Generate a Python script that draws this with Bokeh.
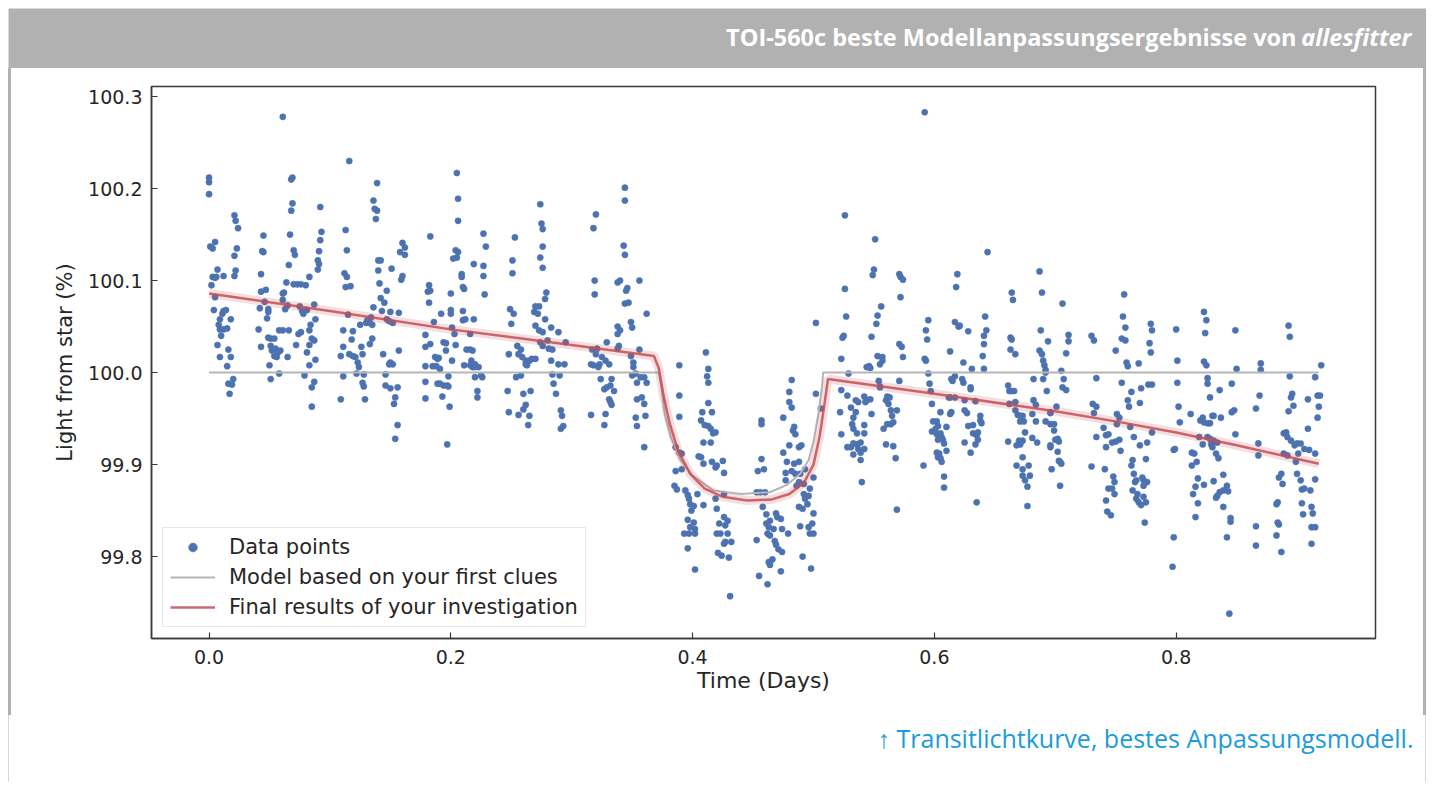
from bokeh.plotting import figure
from bokeh.models import (Range1d, FixedTicker, NumeralTickFormatter, Legend,
                          LegendItem, ColumnDataSource)
from bokeh.core.properties import value
from bokeh.embed import file_html
from bokeh.resources import INLINE

# ---------------- texts ----------------
TITLE_MAIN = "TOI-560c beste Modellanpassungsergebnisse von"
TITLE_ITALIC = "allesfitter"
CAPTION = "\u2191 Transitlichtkurve, bestes Anpassungsmodell."
X_LABEL = "Time (Days)"
Y_LABEL = "Light from star (%)"
LEGEND_LABELS = ["Data points", "Model based on your first clues",
                 "Final results of your investigation"]
X_TICKS = [0.0, 0.2, 0.4, 0.6, 0.8]
Y_TICKS = [99.8, 99.9, 100.0, 100.1, 100.2, 100.3]

# ---------------- data (time in days, flux in %) ----------------
points_before = [
    (0.000, 100.212), (0.000, 100.207), (0.000, 100.194), (0.001, 100.137), (0.003, 100.135),
    (0.005, 100.142), (0.002, 100.095), (0.003, 100.104), (0.005, 100.103), (0.006, 100.104),
    (0.007, 100.112), (0.012, 100.105), (0.005, 100.082), (0.004, 100.068), (0.009, 100.058),
    (0.011, 100.064), (0.012, 100.067), (0.014, 100.068), (0.008, 100.052), (0.009, 100.047),
    (0.012, 100.047), (0.010, 100.040), (0.007, 100.030), (0.009, 100.017), (0.015, 100.048),
    (0.018, 100.058), (0.016, 100.025), (0.018, 100.017), (0.015, 100.007), (0.020, 99.993),
    (0.016, 99.988), (0.019, 99.987), (0.017, 99.977), (0.021, 100.171), (0.022, 100.165),
    (0.024, 100.157), (0.023, 100.135), (0.021, 100.127), (0.022, 100.111), (0.021, 100.105),
    (0.045, 100.149), (0.044, 100.132), (0.045, 100.131), (0.043, 100.107), (0.043, 100.088),
    (0.047, 100.090), (0.046, 100.077), (0.042, 100.070), (0.049, 100.069), (0.049, 100.066),
    (0.048, 100.059), (0.041, 100.047), (0.043, 100.028), (0.049, 100.038), (0.051, 100.037),
    (0.054, 100.037), (0.051, 100.029), (0.052, 100.024), (0.055, 100.026), (0.057, 100.022),
    (0.059, 100.024), (0.054, 100.018), (0.056, 100.017), (0.050, 100.008), (0.051, 99.993),
    (0.058, 99.999), (0.058, 100.046), (0.065, 100.017),
    (0.061, 100.278), (0.069, 100.212), (0.068, 100.210), (0.069, 100.184), (0.068, 100.176),
    (0.067, 100.150), (0.070, 100.133), (0.071, 100.128), (0.066, 100.117), (0.064, 100.098),
    (0.070, 100.096), (0.073, 100.096), (0.076, 100.096), (0.080, 100.095), (0.062, 100.087),
    (0.061, 100.086), (0.061, 100.079), (0.063, 100.069), (0.065, 100.073), (0.061, 100.046),
    (0.066, 100.046), (0.075, 100.072), (0.077, 100.067), (0.081, 100.068), (0.078, 100.064),
    (0.076, 100.044), (0.074, 100.042), (0.072, 100.030), (0.083, 100.104), (0.087, 100.074),
    (0.088, 100.058), (0.084, 100.052), (0.083, 100.046), (0.085, 100.037), (0.087, 100.035),
    (0.083, 100.030), (0.081, 100.022), (0.088, 100.014), (0.083, 100.008), (0.079, 99.997),
    (0.087, 99.990), (0.085, 99.984), (0.085, 99.963), (0.092, 100.180), (0.093, 100.153),
    (0.092, 100.144), (0.091, 100.132), (0.090, 100.122), (0.091, 100.118), (0.090, 100.112),
    (0.116, 100.230), (0.113, 100.155), (0.114, 100.133), (0.112, 100.108), (0.114, 100.104),
    (0.113, 100.093), (0.117, 100.094), (0.115, 100.063), (0.111, 100.046), (0.119, 100.045),
    (0.111, 100.028), (0.118, 100.036), (0.109, 100.018), (0.116, 100.020), (0.119, 100.018),
    (0.121, 100.017), (0.123, 100.011), (0.124, 100.006), (0.122, 99.999), (0.111, 99.996),
    (0.126, 100.028), (0.127, 100.020), (0.125, 100.052), (0.128, 99.998), (0.127, 99.989),
    (0.128, 99.985), (0.109, 99.971), (0.129, 99.971), (0.130, 100.054), (0.131, 100.057),
    (0.133, 100.054), (0.135, 100.052), (0.134, 100.060), (0.132, 100.058), (0.133, 100.031),
    (0.135, 100.037), (0.136, 100.071), (0.139, 100.206), (0.136, 100.187), (0.137, 100.178),
    (0.139, 100.176), (0.138, 100.167), (0.140, 100.122), (0.142, 100.122), (0.140, 100.111),
    (0.141, 100.097), (0.147, 100.089), (0.142, 100.081), (0.145, 100.076), (0.143, 100.067),
    (0.147, 100.058), (0.150, 100.066), (0.152, 100.054), (0.149, 100.056), (0.144, 100.020),
    (0.150, 100.011), (0.152, 100.009), (0.149, 100.009), (0.146, 99.998), (0.146, 99.986),
    (0.150, 99.983), (0.153, 99.966), (0.154, 99.973), (0.156, 99.943), (0.154, 99.928),
    (0.156, 99.984), (0.157, 100.024), (0.157, 100.065), (0.151, 100.113), (0.160, 100.141),
    (0.162, 100.136), (0.158, 100.131), (0.162, 100.128), (0.160, 100.105), (0.159, 100.101),
    (0.183, 100.148), (0.182, 100.095), (0.181, 100.088), (0.183, 100.089), (0.182, 100.076),
    (0.179, 100.041), (0.179, 100.028), (0.183, 100.031), (0.186, 100.055), (0.179, 100.007),
    (0.179, 99.990), (0.179, 99.972), (0.187, 100.017), (0.189, 100.015), (0.190, 100.016),
    (0.188, 100.007), (0.185, 100.007), (0.191, 100.004), (0.189, 99.988), (0.191, 99.988),
    (0.194, 99.986), (0.197, 99.986), (0.198, 99.985), (0.193, 99.974), (0.199, 99.963),
    (0.197, 99.922), (0.192, 100.064), (0.194, 100.033), (0.196, 100.032), (0.196, 100.024),
    (0.198, 99.996), (0.200, 100.068), (0.200, 100.064), (0.200, 100.086), (0.201, 100.049),
    (0.203, 100.042), (0.204, 100.030), (0.201, 100.013), (0.205, 100.217), (0.206, 100.189),
    (0.206, 100.165), (0.204, 100.133), (0.206, 100.131), (0.205, 100.125), (0.202, 100.124),
    (0.209, 100.107), (0.209, 100.104), (0.210, 100.093), (0.211, 100.091), (0.210, 100.057),
    (0.212, 100.058), (0.210, 100.067), (0.213, 100.025), (0.216, 100.025), (0.217, 100.013),
    (0.218, 100.006), (0.216, 100.008), (0.220, 100.006), (0.211, 100.008), (0.219, 100.118),
    (0.219, 100.058), (0.220, 99.995), (0.222, 99.980), (0.222, 99.973),
    (0.227, 100.151), (0.229, 100.137), (0.227, 100.116), (0.227, 100.105), (0.228, 100.085),
    (0.216, 100.042), (0.218, 100.024), (0.220, 100.009), (0.223, 100.006), (0.225, 99.997),
    (0.226, 99.995),
    (0.253, 100.147), (0.251, 100.122), (0.251, 100.108), (0.249, 100.069), (0.252, 100.064),
    (0.250, 100.053), (0.248, 100.020), (0.247, 99.980), (0.248, 99.957), (0.256, 99.954),
    (0.265, 99.953), (0.264, 99.943), (0.255, 100.029), (0.258, 100.025), (0.259, 100.017),
    (0.256, 100.020), (0.262, 100.009), (0.263, 100.008), (0.262, 100.013), (0.254, 99.995),
    (0.258, 99.997), (0.260, 99.977), (0.262, 99.965), (0.260, 99.960), (0.266, 99.980),
    (0.265, 100.013), (0.267, 100.015), (0.270, 100.015), (0.269, 100.066), (0.272, 100.064),
    (0.270, 100.072), (0.273, 100.072), (0.270, 100.051), (0.273, 100.046), (0.276, 100.044),
    (0.274, 100.183), (0.275, 100.162), (0.276, 100.156), (0.276, 100.137), (0.274, 100.125),
    (0.276, 100.114), (0.279, 100.087), (0.278, 100.080), (0.278, 100.058), (0.274, 100.033),
    (0.276, 100.029), (0.280, 100.035), (0.281, 100.026), (0.284, 100.025), (0.283, 100.013),
    (0.284, 99.998), (0.283, 100.049), (0.289, 100.044), (0.295, 100.033), (0.290, 99.997),
    (0.285, 99.988), (0.287, 99.977), (0.291, 99.959), (0.292, 99.953), (0.291, 99.939),
    (0.293, 99.942), (0.294, 100.009), (0.289, 100.009),
    (0.320, 100.172), (0.318, 100.157), (0.319, 100.100), (0.319, 100.085), (0.317, 100.025),
    (0.320, 100.020), (0.316, 100.009), (0.318, 100.008), (0.323, 100.009), (0.322, 100.006),
    (0.321, 100.026), (0.325, 100.017), (0.328, 100.013), (0.329, 100.033), (0.331, 100.009),
    (0.316, 99.954), (0.327, 99.943), (0.328, 99.955), (0.327, 99.982), (0.329, 99.984),
    (0.332, 99.986), (0.331, 99.971), (0.332, 99.968), (0.333, 99.965), (0.335, 99.980),
    (0.324, 99.993), (0.333, 99.993), (0.338, 100.026), (0.339, 100.029), (0.338, 100.042),
    (0.338, 100.050), (0.340, 100.046), (0.338, 100.098), (0.340, 100.100), (0.345, 100.089),
    (0.344, 100.075), (0.347, 100.076), (0.346, 100.092), (0.343, 100.138), (0.344, 100.128),
    (0.344, 100.187), (0.344, 100.201), (0.349, 100.055), (0.350, 100.049), (0.349, 100.018),
    (0.351, 100.011), (0.351, 100.006), (0.353, 99.999), (0.350, 99.997), (0.354, 99.989),
    (0.357, 99.995), (0.360, 99.995), (0.362, 99.989), (0.356, 100.100), (0.362, 100.064),
    (0.356, 100.025), (0.354, 99.971), (0.358, 99.973), (0.360, 99.966), (0.353, 99.951),
    (0.354, 99.942), (0.361, 99.953), (0.360, 99.919),
]

points_transit = [
    (0.389, 100.008), (0.389, 99.975), (0.389, 99.952), (0.386, 99.919), (0.389, 99.913),
    (0.391, 99.912), (0.386, 99.893), (0.391, 99.895), (0.385, 99.877), (0.387, 99.873),
    (0.394, 99.872), (0.396, 99.867), (0.397, 99.863), (0.398, 99.857), (0.401, 99.855),
    (0.399, 99.850), (0.404, 99.868), (0.409, 99.856), (0.396, 99.840), (0.401, 99.837),
    (0.398, 99.832), (0.402, 99.830), (0.393, 99.825), (0.397, 99.825), (0.402, 99.825),
    (0.396, 99.809), (0.402, 99.786), (0.411, 100.022), (0.413, 100.004), (0.412, 99.996),
    (0.413, 99.989), (0.413, 99.967), (0.416, 99.957), (0.408, 99.957), (0.407, 99.948),
    (0.410, 99.943), (0.413, 99.942), (0.415, 99.939), (0.417, 99.934), (0.419, 99.935),
    (0.409, 99.924), (0.415, 99.924), (0.405, 99.909), (0.407, 99.908), (0.409, 99.901),
    (0.416, 99.903), (0.419, 99.897), (0.420, 99.899), (0.425, 99.904), (0.426, 99.891),
    (0.426, 99.868), (0.419, 99.863), (0.420, 99.852), (0.426, 99.843), (0.429, 99.839),
    (0.427, 99.834), (0.422, 99.836), (0.420, 99.825), (0.423, 99.825), (0.429, 99.825),
    (0.427, 99.816), (0.432, 99.816), (0.426, 99.814), (0.421, 99.804), (0.424, 99.801),
    (0.430, 99.799), (0.431, 99.757),
    (0.457, 99.948), (0.457, 99.944), (0.457, 99.906), (0.459, 99.895), (0.454, 99.893),
    (0.453, 99.870), (0.456, 99.870), (0.460, 99.870), (0.458, 99.854), (0.461, 99.846),
    (0.469, 99.847), (0.473, 99.841), (0.464, 99.839), (0.470, 99.843), (0.461, 99.836),
    (0.463, 99.832), (0.467, 99.830), (0.474, 99.830), (0.479, 99.825), (0.453, 99.818),
    (0.462, 99.825), (0.464, 99.823), (0.468, 99.817), (0.469, 99.813), (0.471, 99.808),
    (0.474, 99.805), (0.466, 99.797), (0.464, 99.791), (0.463, 99.794), (0.473, 99.784),
    (0.455, 99.779), (0.462, 99.770),
    (0.475, 99.951), (0.480, 99.979), (0.480, 99.968), (0.482, 99.962), (0.482, 99.992),
    (0.483, 99.937), (0.484, 99.941), (0.485, 99.933), (0.480, 99.921), (0.488, 99.919),
    (0.490, 99.921), (0.475, 99.913), (0.478, 99.903), (0.484, 99.901), (0.488, 99.903),
    (0.477, 99.891), (0.482, 99.893), (0.485, 99.890), (0.488, 99.881), (0.489, 99.890),
    (0.493, 99.895), (0.477, 99.883), (0.486, 99.877), (0.492, 99.879), (0.492, 99.868),
    (0.493, 99.863), (0.496, 99.866), (0.497, 99.874), (0.500, 99.886), (0.488, 99.854),
    (0.491, 99.852), (0.495, 99.857), (0.500, 99.847), (0.489, 99.833), (0.496, 99.832),
    (0.497, 99.825), (0.500, 99.825), (0.499, 99.836), (0.491, 99.800), (0.498, 99.787),
    (0.502, 100.054), (0.502, 99.977), (0.506, 99.961),
]

points_after = [
    (0.526, 100.171), (0.526, 100.091), (0.527, 100.061), (0.525, 100.040), (0.524, 100.038),
    (0.523, 100.015), (0.523, 99.981), (0.528, 99.975), (0.522, 99.957), (0.523, 99.933),
    (0.528, 99.919), (0.529, 99.999), (0.592, 100.283), (0.551, 100.145),
    (0.550, 100.112), (0.549, 100.106), (0.556, 100.072), (0.553, 100.062), (0.552, 100.053),
    (0.548, 100.039), (0.553, 100.018), (0.557, 100.017), (0.555, 100.009), (0.557, 100.013),
    (0.554, 99.991), (0.555, 99.985), (0.555, 99.984), (0.546, 100.007), (0.544, 100.006),
    (0.547, 100.005), (0.542, 99.974), (0.544, 99.970), (0.547, 99.971), (0.548, 99.955),
    (0.543, 99.968), (0.535, 99.970), (0.531, 99.962), (0.535, 99.957), (0.537, 99.968),
    (0.533, 99.951), (0.532, 99.944), (0.533, 99.939), (0.536, 99.934), (0.542, 99.943),
    (0.542, 99.934), (0.531, 99.919), (0.533, 99.923), (0.536, 99.922), (0.539, 99.924),
    (0.537, 99.917), (0.542, 99.917), (0.533, 99.911), (0.539, 99.913), (0.539, 99.905),
    (0.540, 99.881), (0.561, 99.974), (0.563, 99.973), (0.560, 99.970), (0.562, 99.966),
    (0.564, 99.959), (0.565, 99.953), (0.564, 99.944), (0.566, 99.946), (0.569, 99.959),
    (0.558, 99.939), (0.561, 99.944), (0.560, 99.922), (0.566, 99.920), (0.568, 99.907),
    (0.569, 99.851), (0.571, 100.107), (0.572, 100.104), (0.574, 100.101), (0.572, 100.082),
    (0.571, 100.031), (0.573, 100.028), (0.574, 100.017), (0.571, 99.991),
    (0.595, 100.057), (0.593, 100.046), (0.594, 100.036), (0.592, 100.015), (0.593, 100.013),
    (0.595, 99.999), (0.596, 99.988), (0.597, 99.980), (0.598, 99.966), (0.591, 99.899),
    (0.599, 99.947), (0.602, 99.947), (0.603, 99.942), (0.601, 99.939), (0.598, 99.936),
    (0.602, 99.933), (0.605, 99.934), (0.606, 99.930), (0.603, 99.927), (0.607, 99.927),
    (0.608, 99.923), (0.605, 99.957), (0.610, 99.941), (0.602, 99.913), (0.604, 99.912),
    (0.603, 99.908), (0.605, 99.907), (0.606, 99.903), (0.610, 99.915), (0.608, 99.887),
    (0.608, 99.875), (0.613, 100.023), (0.614, 99.993), (0.617, 99.996), (0.615, 99.991),
    (0.613, 99.973), (0.617, 99.973), (0.612, 99.973), (0.614, 99.957), (0.613, 99.955),
    (0.619, 100.107), (0.618, 100.093), (0.617, 100.055), (0.620, 100.050), (0.621, 100.051),
    (0.623, 99.993), (0.624, 99.989), (0.625, 99.970), (0.625, 99.959), (0.627, 99.956),
    (0.628, 99.942), (0.625, 99.924), (0.630, 99.913), (0.624, 100.011), (0.628, 100.045),
    (0.631, 100.004), (0.630, 99.982), (0.630, 99.984), (0.632, 99.943), (0.634, 99.969),
    (0.632, 99.934), (0.635, 99.932), (0.636, 99.935), (0.636, 99.927), (0.634, 99.922),
    (0.638, 99.953), (0.639, 99.945), (0.638, 99.948), (0.640, 100.018), (0.641, 100.031),
    (0.641, 100.040), (0.642, 100.061), (0.643, 100.046), (0.641, 100.004), (0.635, 99.859),
    (0.644, 100.131),
    (0.664, 100.087), (0.665, 100.079), (0.663, 100.038), (0.664, 100.036), (0.663, 100.025),
    (0.667, 100.020), (0.661, 99.986), (0.662, 99.980), (0.664, 99.980), (0.666, 99.980),
    (0.662, 99.966), (0.667, 99.968), (0.661, 99.925), (0.667, 99.959), (0.669, 99.954),
    (0.671, 99.953), (0.673, 99.953), (0.671, 99.947), (0.674, 99.947), (0.670, 99.926),
    (0.671, 99.922), (0.673, 99.926), (0.675, 99.935), (0.668, 99.921), (0.673, 99.908),
    (0.668, 99.899), (0.673, 99.895), (0.673, 99.888), (0.678, 99.899), (0.679, 99.888),
    (0.675, 99.883), (0.677, 99.876), (0.677, 99.855), (0.682, 99.993), (0.682, 99.970),
    (0.684, 99.965), (0.681, 99.955), (0.684, 99.947), (0.685, 99.924), (0.681, 99.929),
    (0.687, 100.110), (0.689, 100.087), (0.688, 100.046), (0.687, 100.024), (0.689, 100.020),
    (0.690, 100.013), (0.691, 100.008), (0.690, 99.993), (0.692, 100.000), (0.693, 99.980),
    (0.694, 100.034), (0.692, 100.003), (0.692, 99.947), (0.696, 99.957), (0.696, 99.956),
    (0.696, 99.944), (0.699, 99.944), (0.699, 99.937), (0.696, 99.921), (0.696, 99.919),
    (0.697, 99.895), (0.700, 99.927), (0.701, 99.963), (0.702, 99.928), (0.702, 99.914),
    (0.703, 99.904), (0.704, 99.903), (0.705, 99.901), (0.704, 99.877), (0.703, 99.925),
    (0.706, 99.984), (0.707, 99.993), (0.709, 99.981), (0.711, 100.041), (0.711, 100.034),
    (0.709, 100.021), (0.706, 100.075), (0.705, 100.002),
    (0.730, 100.040), (0.732, 100.035), (0.731, 99.966), (0.734, 99.994), (0.734, 99.930),
    (0.730, 99.898), (0.732, 99.956), (0.734, 99.963), (0.757, 100.085), (0.756, 100.061),
    (0.758, 100.049), (0.755, 100.037), (0.758, 100.035), (0.759, 100.011), (0.760, 100.007),
    (0.755, 99.989), (0.750, 100.024), (0.769, 100.010), (0.779, 100.053), (0.780, 100.046),
    (0.778, 100.032), (0.779, 100.022), (0.763, 99.979), (0.771, 99.983), (0.777, 99.987),
    (0.780, 99.987), (0.760, 99.970), (0.761, 99.963), (0.770, 99.967), (0.751, 99.955),
    (0.753, 99.951), (0.762, 99.941), (0.751, 99.944), (0.740, 99.940), (0.742, 99.932),
    (0.744, 99.933), (0.747, 99.924), (0.742, 99.919), (0.750, 99.925), (0.753, 99.927),
    (0.754, 99.915), (0.765, 99.930), (0.770, 99.921), (0.776, 99.924), (0.780, 99.935),
    (0.741, 99.895), (0.748, 99.887), (0.749, 99.881), (0.744, 99.874), (0.747, 99.874),
    (0.749, 99.868), (0.742, 99.861), (0.743, 99.849), (0.746, 99.845), (0.764, 99.905),
    (0.763, 99.899), (0.765, 99.890), (0.767, 99.883), (0.766, 99.881), (0.772, 99.886),
    (0.773, 99.883), (0.776, 99.881), (0.773, 99.877), (0.764, 99.872), (0.768, 99.868),
    (0.767, 99.863), (0.769, 99.859), (0.771, 99.856), (0.773, 99.865), (0.775, 99.859),
    (0.774, 99.837), (0.775, 99.906),
    (0.800, 100.047), (0.801, 100.013), (0.801, 99.989), (0.802, 99.963), (0.803, 99.946),
    (0.799, 99.917), (0.798, 99.916), (0.798, 99.821), (0.797, 99.789), (0.812, 99.955),
    (0.813, 99.913), (0.815, 99.912), (0.813, 99.899), (0.817, 99.903), (0.818, 99.885),
    (0.816, 99.876), (0.814, 99.868), (0.818, 99.858), (0.816, 99.843), (0.823, 99.878),
    (0.823, 100.066), (0.825, 100.057), (0.824, 100.043), (0.823, 100.012), (0.825, 100.008),
    (0.826, 99.994), (0.826, 99.988), (0.828, 99.973), (0.830, 99.953), (0.831, 99.953),
    (0.820, 99.948), (0.822, 99.951), (0.823, 99.946), (0.826, 99.945), (0.828, 99.945),
    (0.819, 99.930), (0.822, 99.922), (0.826, 99.930), (0.828, 99.928), (0.831, 99.926),
    (0.834, 99.924), (0.830, 99.919), (0.833, 99.912), (0.835, 99.907), (0.829, 99.922),
    (0.831, 99.882), (0.833, 99.864), (0.834, 99.866), (0.836, 99.870), (0.839, 99.872),
    (0.843, 99.871), (0.842, 99.877), (0.839, 99.889), (0.839, 99.854), (0.845, 99.842),
    (0.845, 99.838), (0.842, 99.821), (0.844, 99.738), (0.836, 99.981), (0.837, 99.951),
    (0.846, 99.957), (0.848, 99.959), (0.846, 99.988), (0.849, 100.046), (0.850, 100.004),
    (0.849, 99.933),
    (0.870, 100.010), (0.870, 100.003), (0.869, 99.975), (0.866, 99.961), (0.868, 99.923),
    (0.868, 99.910), (0.866, 99.833), (0.866, 99.812), (0.893, 100.051), (0.894, 100.039),
    (0.894, 99.996), (0.895, 99.973), (0.896, 99.977), (0.897, 99.964), (0.893, 99.958),
    (0.891, 99.935), (0.889, 99.934), (0.892, 99.930), (0.895, 99.926), (0.898, 99.921),
    (0.900, 99.923), (0.903, 99.923), (0.889, 99.912), (0.892, 99.910), (0.887, 99.890),
    (0.885, 99.886), (0.888, 99.879), (0.884, 99.859), (0.883, 99.857), (0.884, 99.837),
    (0.885, 99.835), (0.883, 99.823), (0.887, 99.805), (0.901, 99.912), (0.899, 99.903),
    (0.900, 99.890), (0.903, 99.883), (0.904, 99.873), (0.906, 99.874), (0.904, 99.858),
    (0.905, 99.846), (0.909, 99.939), (0.909, 99.971), (0.906, 99.917), (0.910, 99.916),
    (0.911, 99.872), (0.912, 99.854), (0.913, 99.847), (0.912, 99.832), (0.915, 99.832),
    (0.912, 99.814), (0.915, 99.995), (0.917, 99.975), (0.919, 99.975), (0.918, 99.963),
    (0.917, 99.951), (0.915, 99.912), (0.915, 99.884), (0.920, 100.008),
]

first_model_time = [0.0, 0.372, 0.374, 0.377, 0.382, 0.390, 0.400, 0.417, 0.440, 0.464,
                    0.478, 0.489, 0.496, 0.500, 0.504, 0.507, 0.508, 0.918]
first_model_flux = [100.0, 100.0, 99.985, 99.955, 99.930, 99.905, 99.888, 99.872, 99.868,
                    99.870, 99.878, 99.890, 99.905, 99.925, 99.955, 99.985, 100.0, 100.0]

final_model_time = [0.0, 0.1, 0.2, 0.3, 0.368, 0.372, 0.376, 0.381, 0.388, 0.398, 0.410,
                    0.425, 0.445, 0.465, 0.480, 0.492, 0.500, 0.505, 0.509, 0.512, 0.6,
                    0.7, 0.75, 0.8, 0.85, 0.918]
final_model_flux = [100.086, 100.067, 100.047, 100.030, 100.018, 100.005, 99.975, 99.945,
                    99.915, 99.890, 99.874, 99.865, 99.861, 99.862, 99.868, 99.880, 99.900,
                    99.930, 99.965, 99.993, 99.977, 99.958, 99.947, 99.935, 99.921, 99.901]

# ---------------- colours ----------------
HEADER_GREY = "#b1b1b1"
DOT_BLUE = "#4c72b0"
MODEL_GREY = "#b5b5b5"
FINAL_RED = "#c44e52"
TEXT_DARK = "#262626"
FRAME_DARK = "#3a3a3a"
CAPTION_BLUE = "#1a9cd8"

# ---------------- header ----------------
hdr = figure(width=1418, height=60, x_range=Range1d(0, 1418), y_range=Range1d(0, 60),
             x_axis_location=None, y_axis_location=None, output_backend="svg",
             toolbar_location=None, min_border=0)
hdr.styles = {"margin-left": "8px", "margin-top": "8px"}
hdr.xgrid.grid_line_color = None
hdr.ygrid.grid_line_color = None
hdr.background_fill_color = HEADER_GREY
hdr.border_fill_color = HEADER_GREY
hdr.outline_line_color = None
hdr.text(x=[1403], y=[32], text=[TITLE_ITALIC], text_align="right", text_baseline="middle",
         text_font=value("Open Sans"), text_font_style="bold italic",
         text_font_size="23.5px", text_color="white")
hdr.text(x=[1288], y=[32], text=[TITLE_MAIN], text_align="right", text_baseline="middle",
         text_font=value("Open Sans"), text_font_style="bold",
         text_font_size="23.5px", text_color="white")

# ---------------- main chart ----------------
all_pts = points_before + points_transit + points_after
src = ColumnDataSource(data=dict(t=[q[0] for q in all_pts], f=[q[1] for q in all_pts]))

p = figure(width=1418, height=647, x_range=Range1d(-0.0476, 0.9649),
           y_range=Range1d(99.711, 100.311), output_backend="svg", toolbar_location=None,
           min_border_left=140, min_border_right=54, min_border_top=18, min_border_bottom=77)
p.styles = {"margin-left": "8px",
            "border-left": f"3px solid {HEADER_GREY}", "border-right": f"3px solid {HEADER_GREY}"}
p.xgrid.grid_line_color = None
p.ygrid.grid_line_color = None
p.background_fill_color = "white"
p.border_fill_color = "white"
p.outline_line_color = FRAME_DARK
p.outline_line_width = 1.5

sc = p.scatter("t", "f", source=src, size=6.2, fill_color=DOT_BLUE, line_color=DOT_BLUE,
               line_width=0.5)
gl = p.line(first_model_time, first_model_flux, line_color=MODEL_GREY, line_width=2)
p.line(final_model_time, final_model_flux, line_color=FINAL_RED, line_alpha=0.18, line_width=9)
rl = p.line(final_model_time, final_model_flux, line_color=FINAL_RED, line_alpha=0.85,
            line_width=2.5)

p.xaxis.ticker = FixedTicker(ticks=X_TICKS)
p.yaxis.ticker = FixedTicker(ticks=Y_TICKS)
p.xaxis.formatter = NumeralTickFormatter(format="0.0")
p.yaxis.formatter = NumeralTickFormatter(format="0.0")
p.xaxis.axis_label = X_LABEL
p.yaxis.axis_label = Y_LABEL
for ax in (p.xaxis[0], p.yaxis[0]):
    ax.major_tick_in = 6
    ax.major_tick_out = 0
    ax.minor_tick_in = 0
    ax.minor_tick_out = 0
    ax.axis_line_color = FRAME_DARK
    ax.axis_line_width = 1.5
    ax.major_tick_line_color = FRAME_DARK
    ax.major_tick_line_width = 1.2
    ax.major_label_text_font = "DejaVu Sans"
    ax.major_label_text_font_size = "19px"
    ax.major_label_text_color = TEXT_DARK
    ax.axis_label_text_font = "DejaVu Sans"
    ax.axis_label_text_font_style = "normal"
    ax.axis_label_text_color = TEXT_DARK
p.yaxis.axis_label_text_font_size = "21px"
p.xaxis.axis_label_text_font_size = "22px"
p.yaxis.major_label_standoff = 9
p.xaxis.major_label_standoff = 11
p.yaxis.axis_label_standoff = 8
p.xaxis.axis_label_standoff = 1

legend = Legend(items=[LegendItem(label=LEGEND_LABELS[0], renderers=[sc]),
                       LegendItem(label=LEGEND_LABELS[1], renderers=[gl]),
                       LegendItem(label=LEGEND_LABELS[2], renderers=[rl])],
                location="bottom_left")
legend.margin = 11
legend.padding = 7
legend.spacing = 6
legend.glyph_width = 45
legend.glyph_height = 22
legend.label_height = 22
legend.label_standoff = 14
legend.label_text_font = "DejaVu Sans"
legend.label_text_font_size = "21px"
legend.label_text_color = TEXT_DARK
legend.border_line_color = "#d0d0d0"
legend.border_line_width = 1
legend.background_fill_color = "white"
legend.background_fill_alpha = 0.85
p.add_layout(legend)

# ---------------- caption ----------------
cap = figure(width=1418, height=67, x_range=Range1d(0, 1416), y_range=Range1d(0, 67),
             x_axis_location=None, y_axis_location=None, output_backend="svg",
             toolbar_location=None, min_border=0)
cap.styles = {"margin-left": "8px",
              "border-left": "1px solid #d6d6d6", "border-right": "1px solid #d6d6d6"}
cap.xgrid.grid_line_color = None
cap.ygrid.grid_line_color = None
cap.background_fill_color = "white"
cap.border_fill_color = "white"
cap.outline_line_color = None
cap.text(x=[1402], y=[45], text=[CAPTION], text_align="right", text_baseline="middle",
         text_font=value("Open Sans"), text_font_size="25px", text_color=CAPTION_BLUE)

open("out.html", "w").write(file_html([hdr, p, cap], INLINE))
